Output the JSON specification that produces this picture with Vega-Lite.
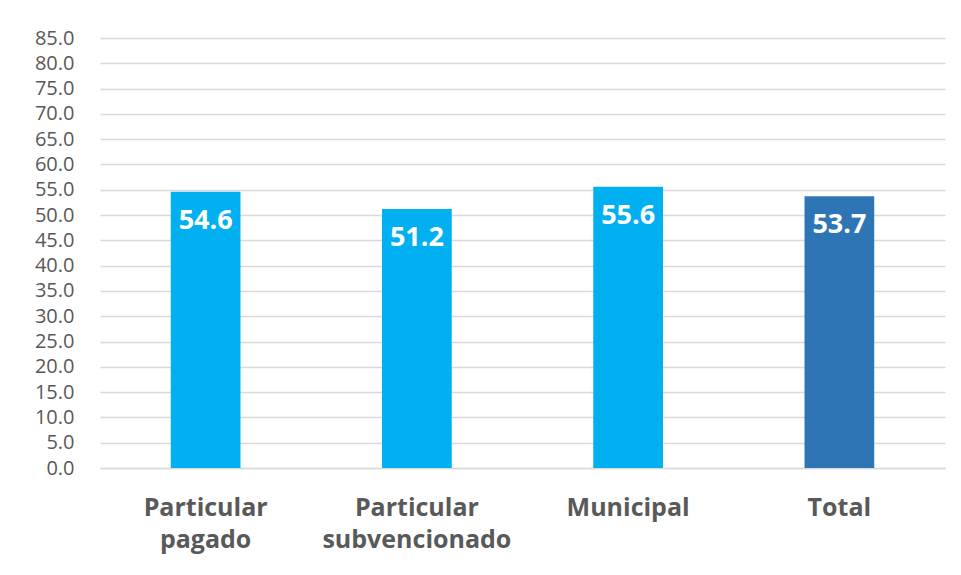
{
  "$schema": "https://vega.github.io/schema/vega-lite/v6.json",
  "width": 845,
  "height": 430,
  "autosize": "none",
  "padding": {"left": 100, "top": 38, "right": 16, "bottom": 107},
  "background": "white",
  "config": {"view": {"stroke": null}, "font": "Open Sans"},
  "data": {
    "values": [
      {"sector": "Particular pagado", "valor": 54.6, "grupo": "sector"},
      {"sector": "Particular subvencionado", "valor": 51.2, "grupo": "sector"},
      {"sector": "Municipal", "valor": 55.6, "grupo": "sector"},
      {"sector": "Total", "valor": 53.7, "grupo": "total"}
    ]
  },
  "encoding": {
    "x": {
      "field": "sector",
      "type": "nominal",
      "sort": null,
      "title": null,
      "scale": {"paddingInner": 0.67, "paddingOuter": 0.335},
      "axis": {
        "labelAngle": 0,
        "labelExpr": "split(datum.label, ' ')",
        "labelFont": "Open Sans",
        "labelFontSize": 25,
        "labelFontWeight": "bold",
        "labelColor": "#595959",
        "labelLineHeight": 32,
        "labelPadding": 27,
        "labelBaseline": "top",
        "labelLimit": 400,
        "ticks": false,
        "domain": true,
        "domainColor": "#d9d9d9",
        "domainWidth": 1.5
      }
    },
    "y": {
      "field": "valor",
      "type": "quantitative",
      "title": null,
      "scale": {"domain": [0, 85], "nice": false},
      "axis": {
        "values": [0, 5, 10, 15, 20, 25, 30, 35, 40, 45, 50, 55, 60, 65, 70, 75, 80, 85],
        "format": ".1f",
        "labelFont": "Open Sans",
        "labelFontSize": 20,
        "labelColor": "#595959",
        "labelPadding": 26,
        "ticks": false,
        "domain": false,
        "gridColor": "#d9d9d9",
        "gridWidth": 1.5
      }
    }
  },
  "layer": [
    {
      "mark": {"type": "bar"},
      "encoding": {
        "color": {
          "field": "grupo",
          "type": "nominal",
          "scale": {"domain": ["sector", "total"], "range": ["#00B0F0", "#2E75B6"]},
          "legend": null
        }
      }
    },
    {
      "mark": {
        "type": "text",
        "baseline": "top",
        "dy": 16,
        "color": "white",
        "fontWeight": "bold",
        "fontSize": 27,
        "font": "Open Sans"
      },
      "encoding": {
        "text": {"field": "valor", "type": "quantitative", "format": ".1f"}
      }
    }
  ]
}
